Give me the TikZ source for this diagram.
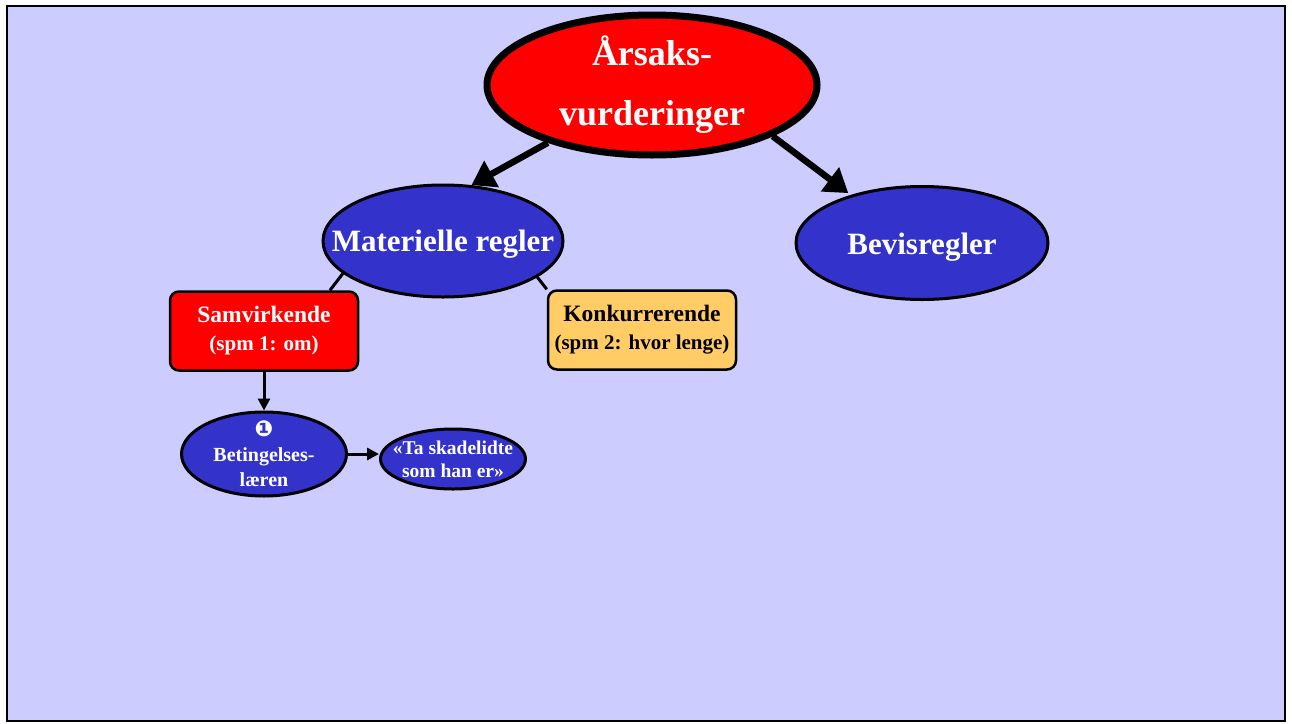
\documentclass[tikz,border=0pt]{standalone}
\usepackage{fontspec}
\setmainfont{Liberation Serif}
\newfontfamily\dejavu{DejaVu Sans}
\usetikzlibrary{shapes.geometric,arrows.meta,backgrounds}
\definecolor{lav}{HTML}{CCCCFF}
\definecolor{bluefill}{HTML}{3333CC}
\definecolor{redfill}{HTML}{FF0000}
\definecolor{orangefill}{HTML}{FFCC66}
\tikzset{
  oval/.style={ellipse, draw=black, fill=bluefill, text=white, line width=3pt, inner sep=0pt, align=center, font=\bfseries},
  boxnode/.style={rectangle, rounded corners=9pt, draw=black, line width=2.5pt, minimum width=188pt, minimum height=79pt, inner sep=0pt, align=center, font=\bfseries},
  bigarrow/.style={line width=6.5pt, -{Triangle[length=23pt,width=29pt]}},
  smallarrow/.style={line width=3pt, -{Triangle[length=12pt,width=12pt]}},
  plainline/.style={line width=3pt}
}
\begin{document}
\begin{tikzpicture}[x=1pt,y=-1pt]
\useasboundingbox (0,0) rectangle (1292,723);
\begin{scope}[on background layer]
\draw[line width=2.5pt, fill=lav] (7,6) rectangle (1285,721);
\end{scope}

\node[oval, fill=redfill, line width=7pt, minimum width=330pt, minimum height=140pt,
      font=\bfseries\fontsize{36}{60}\selectfont] (top) at (652,85) {Årsaks-\\vurderinger};
\node[oval, minimum width=240pt, minimum height=112pt, inner xsep=-32pt,
      text height=28pt, text depth=7pt,
      font=\bfseries\fontsize{31}{36}\selectfont] (mat) at (443,241) {Materielle regler};
\node[oval, minimum width=252pt, minimum height=113pt,
      text height=29pt, text depth=7pt,
      font=\bfseries\fontsize{31}{36}\selectfont] (bev) at (922,243) {Bevisregler};

\node[boxnode, fill=redfill, text=white, font=\bfseries\fontsize{21}{28}\selectfont] (sam) at (264,331)
  {{\fontsize{23.5}{28}\selectfont Samvirkende}\\(spm 1: om)};
\node[boxnode, fill=orangefill, text=black, font=\bfseries\fontsize{21}{28}\selectfont] (kon) at (642,330)
  {{\fontsize{23.5}{28}\selectfont Konkurrerende}\\(spm 2: hvor lenge)};

\node[oval, minimum width=165pt, minimum height=84pt, inner ysep=-7pt, inner xsep=-4pt,
      font=\bfseries\fontsize{20}{25}\selectfont] (bet) at (264,454)
  {{\dejavu\fontsize{22}{25}\selectfont ❶}\\Betingelses-\\læren};
\node[oval, minimum width=145pt, minimum height=60pt, inner xsep=-14pt,
      font=\bfseries\fontsize{19.5}{23}\selectfont] (ta) at (453,459)
  {«Ta skadelidte\\som han er»};

\begin{scope}[on background layer]
  \draw[plainline] (mat.198) -- ([xshift=66pt]sam.north);
  \draw[plainline] (mat.339) -- (kon.north west);
\end{scope}

\draw[bigarrow] (top.209) -- (mat.63);
\draw[bigarrow, shorten >=3pt] (top.337) -- (bev.146);
\draw[smallarrow] (sam.south) -- (bet.north);
\draw[smallarrow] (bet.east) -- (bet.east -| ta.west);
\end{tikzpicture}
\end{document}
